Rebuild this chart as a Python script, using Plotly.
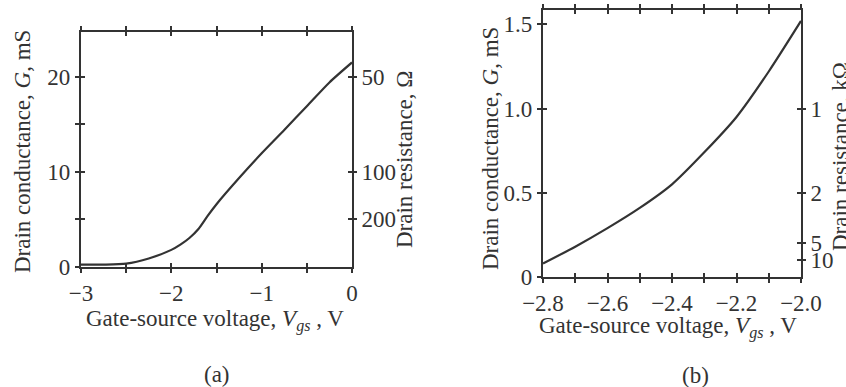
import plotly.graph_objects as go

# ---- data ----
vgs_a = [-3.0, -2.75, -2.5, -2.25, -2.0, -1.9, -1.8, -1.7, -1.6, -1.5, -1.25, -1.0, -0.75, -0.5, -0.25, 0.0]
g_a = [0.25, 0.25, 0.35, 0.9, 1.8, 2.35, 3.05, 4.0, 5.35, 6.6, 9.35, 11.95, 14.4, 16.9, 19.4, 21.5]

vgs_b = [-2.8, -2.7, -2.6, -2.5, -2.4, -2.3, -2.2, -2.1, -2.0]
g_b = [0.08, 0.18, 0.29, 0.41, 0.55, 0.74, 0.95, 1.22, 1.52]

xa_ticks = [-3.0, -2.5, -2.0, -1.5, -1.0, -0.5, 0.0]
xa_labels = ["\u22123", "", "\u22122", "", "\u22121", "", "0"]
ya_ticks = [0, 5, 10, 15, 20]
ya_labels = ["0", "", "10", "", "20"]
ra_ohm = [50, 100, 200]            # drain resistance, ohm (right axis of a)

xb_ticks = [-2.8, -2.7, -2.6, -2.5, -2.4, -2.3, -2.2, -2.1, -2.0]
xb_labels = ["\u22122.8", "", "\u22122.6", "", "\u22122.4", "", "\u22122.2", "", "\u22122.0"]
yb_ticks = [0, 0.5, 1.0, 1.5]
yb_labels = ["0", "0.5", "1.0", "1.5"]
rb_kohm = [1, 2, 5, 10]            # drain resistance, kohm (right axis of b)

# ---- styling ----
W, H = 846, 387
INK = "#333333"
FONT = "Liberation Serif"
FS = 23
XA_RANGE = [-3, 0]
YA_RANGE = [0, 24.7]
XB_RANGE = [-2.8, -2.0]
YB_RANGE = [0, 1.585]


def px(x):
    return x / W


def py(y):
    return 1 - y / H


fig = go.Figure()
fig.add_trace(go.Scatter(x=vgs_a, y=g_a, mode="lines", xaxis="x", yaxis="y",
                         line=dict(color=INK, width=2.2, shape="spline", smoothing=0.7),
                         showlegend=False, hoverinfo="skip"))
fig.add_trace(go.Scatter(x=vgs_b, y=g_b, mode="lines", xaxis="x2", yaxis="y2",
                         line=dict(color=INK, width=2.2, shape="spline", smoothing=0.7),
                         showlegend=False, hoverinfo="skip"))

# invisible anchor traces so that every overlay axis gets drawn
for xa, ya, xr, yr in [("x3", "y", XA_RANGE, YA_RANGE), ("x", "y3", XA_RANGE, YA_RANGE),
                       ("x", "y5", XA_RANGE, YA_RANGE), ("x", "y6", XA_RANGE, YA_RANGE),
                       ("x4", "y2", XB_RANGE, YB_RANGE), ("x2", "y4", XB_RANGE, YB_RANGE),
                       ("x2", "y7", XB_RANGE, YB_RANGE), ("x2", "y8", XB_RANGE, YB_RANGE)]:
    fig.add_trace(go.Scatter(x=[xr[0]], y=[yr[0]], xaxis=xa, yaxis=ya, mode="markers",
                             marker=dict(opacity=0, size=1), showlegend=False, hoverinfo="skip"))

tickfont = dict(family=FONT, size=FS, color=INK)
base = dict(showgrid=False, zeroline=False, ticklen=4, tickwidth=1.6, tickcolor=INK,
            tickfont=tickfont, fixedrange=True, automargin=False)

dom_xa = [px(81), px(352)]
dom_ya = [py(267), py(32)]
dom_xb = [px(543), px(801)]
dom_yb = [py(277), py(10)]

ra_g = [1000.0 / r for r in ra_ohm]
rb_g = [1.0 / r for r in rb_kohm]

layout = dict(
    template="none",
    width=W, height=H, margin=dict(l=0, r=0, t=0, b=0, autoexpand=False),
    paper_bgcolor="white", plot_bgcolor="rgba(0,0,0,0)",
    font=dict(family=FONT, size=FS, color=INK),
    # panel a
    xaxis=dict(base, domain=dom_xa, anchor="y", range=XA_RANGE, tickvals=xa_ticks, ticktext=xa_labels,
               ticks="outside", showline=True, linewidth=2.2, linecolor=INK, mirror="ticks"),
    xaxis3=dict(base, overlaying="x", anchor="y", range=XA_RANGE, tickvals=xa_ticks,
                ticks="inside", mirror="ticks", showline=False, showticklabels=False),
    yaxis=dict(base, domain=dom_ya, anchor="x", range=YA_RANGE, tickvals=ya_ticks, ticktext=ya_labels,
               ticks="outside", showline=True, linewidth=2.2, linecolor=INK, mirror=True),
    yaxis3=dict(base, overlaying="y", anchor="x", range=YA_RANGE, tickvals=ya_ticks,
                ticks="inside", showline=False, showticklabels=False),
    yaxis5=dict(base, overlaying="y", anchor="x", side="right", range=YA_RANGE, tickvals=ra_g,
                ticktext=[str(r) for r in ra_ohm], ticks="outside", showline=False),
    yaxis6=dict(base, overlaying="y", anchor="x", side="right", range=YA_RANGE, tickvals=ra_g,
                ticks="inside", showline=False, showticklabels=False),
    # panel b
    xaxis2=dict(base, domain=dom_xb, anchor="y2", range=XB_RANGE, tickvals=xb_ticks, ticktext=xb_labels,
                ticks="outside", showline=True, linewidth=2.2, linecolor=INK, mirror="ticks"),
    xaxis4=dict(base, overlaying="x2", anchor="y2", range=XB_RANGE, tickvals=xb_ticks,
                ticks="inside", mirror="ticks", showline=False, showticklabels=False),
    yaxis2=dict(base, domain=dom_yb, anchor="x2", range=YB_RANGE, tickvals=yb_ticks, ticktext=yb_labels,
                ticks="outside", showline=True, linewidth=2.2, linecolor=INK, mirror=True),
    yaxis4=dict(base, overlaying="y2", anchor="x2", range=YB_RANGE, tickvals=yb_ticks,
                ticks="inside", showline=False, showticklabels=False),
    yaxis7=dict(base, overlaying="y2", anchor="x2", side="right", range=YB_RANGE, tickvals=rb_g,
                ticktext=[str(r) for r in rb_kohm], ticks="outside", showline=False),
    yaxis8=dict(base, overlaying="y2", anchor="x2", side="right", range=YB_RANGE, tickvals=rb_g,
                ticks="inside", showline=False, showticklabels=False),
)
fig.update_layout(**layout)

vlabel = "Gate-source voltage, <i>V</i><sub><i>gs</i></sub> , V"
anns = [
    (23, 152, "Drain conductance, <i>G</i>, mS", -90),
    (405, 160, "Drain resistance, \u03a9", -90),
    (215, 320, vlabel, 0),
    (217, 374, "(a)", 0),
    (490, 148, "Drain conductance, <i>G</i>, mS", -90),
    (840, 157, "Drain resistance, k\u03a9", -90),
    (668, 327, vlabel, 0),
    (695, 375, "(b)", 0),
]
for x, y, t, ang in anns:
    fig.add_annotation(x=px(x), y=py(y), xref="paper", yref="paper", text=t, textangle=ang,
                       showarrow=False, xanchor="center", yanchor="middle",
                       font=dict(family=FONT, size=FS, color=INK))

fig.write_html("out.html", config={"displayModeBar": False},
               post_script="document.body.style.margin='0px';")
